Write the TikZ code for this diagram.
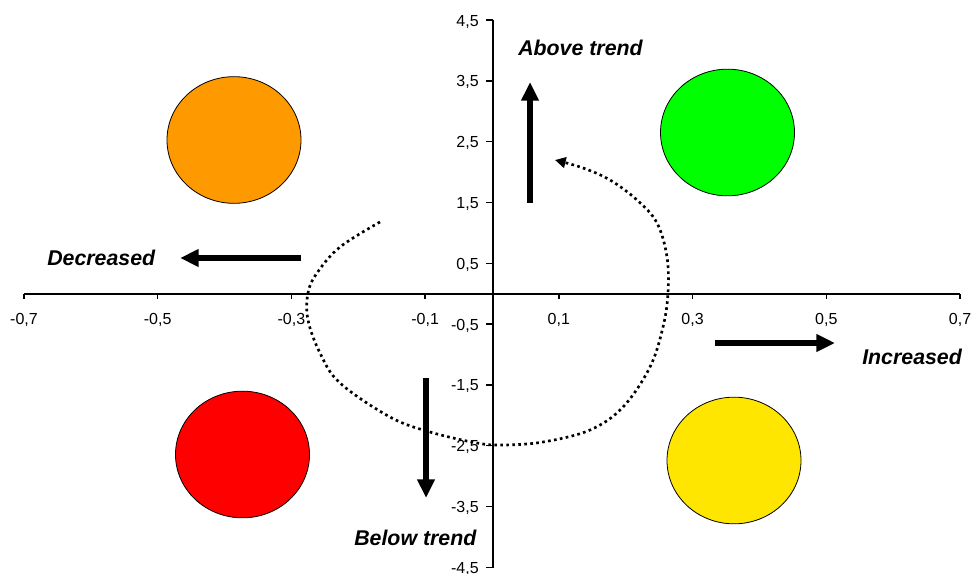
\documentclass[tikz,border=0pt]{standalone}
\usepackage{fontspec}
\setmainfont{Liberation Sans}
\usetikzlibrary{arrows.meta,shapes.geometric}
\definecolor{corange}{HTML}{FF9900}
\definecolor{cgreen}{HTML}{00FF00}
\definecolor{cred}{HTML}{FF0000}
\definecolor{cyellow}{HTML}{FFE600}
\begin{document}
\begin{tikzpicture}[x=0.75pt,y=-0.75pt,
  axisline/.style={line width=1.5pt},
  tickline/.style={line width=1pt},
  ticklab/.style={font=\fontsize{12}{14}\selectfont, inner sep=0},
  lab/.style={font=\fontsize{16}{19}\selectfont\bfseries\itshape, inner sep=0, anchor=base west},
  bigarrow/.style={line width=4.5pt, -{Triangle[length=14pt,width=12.5pt]}},
  blob/.style={ellipse, draw=black, line width=0.6pt, minimum width=100.5pt, minimum height=95pt, inner sep=0},
  trail/.style={line width=2pt, dash pattern=on 2pt off 2.5pt, -{Triangle[length=8pt,width=8pt]}}
]
\useasboundingbox (0,0) rectangle (971,574);
% axes
\coordinate (xl) at (24,294);
\coordinate (xr) at (960,294);
\coordinate (yt) at (493,20);
\coordinate (yb) at (493,568);
\draw[axisline] (xl) -- (xr);
\draw[axisline] (yt) -- (yb);
% x ticks
\foreach \v/\t [count=\i] in {-0.7/{-0,7},-0.5/{-0,5},-0.3/{-0,3},-0.1/{-0,1},0.1/{0,1},0.3/{0,3},0.5/{0,5},0.7/{0,7}}{
  \coordinate (xt\i) at ({492+\v*668.6},294);
  \draw[tickline] (xt\i) -- ++(0,5);
  \node[ticklab, anchor=base] (xlab\i) at ({492+\v*668.6},324) {\t};
}
% y ticks
\foreach \v/\t [count=\i] in {4.5/{4,5},3.5/{3,5},2.5/{2,5},1.5/{1,5},0.5/{0,5},-0.5/{-0,5},-1.5/{-1,5},-2.5/{-2,5},-3.5/{-3,5},-4.5/{-4,5}}{
  \coordinate (yt\i) at (493,{293.7-\v*60.8});
  \draw[tickline] (yt\i) -- ++(-7,0);
  \node[ticklab, anchor=base east] (ylab\i) at (479,{299.7-\v*60.8}) {\t};
}
% circles
\node[blob, fill=corange] (orange) at (234,140) {};
\node[blob, fill=cgreen] (green) at (727.5,132.5) {};
\node[blob, fill=cred] (red) at (242.5,454.5) {};
\node[blob, fill=cyellow] (yellow) at (734,460.5) {};
% big arrows
\coordinate (ua) at (530,203); \coordinate (ub) at (530,82);
\coordinate (la) at (301,258); \coordinate (lb) at (180,258);
\coordinate (ra) at (715,343); \coordinate (rb) at (835,343);
\coordinate (da) at (426,378); \coordinate (db) at (426,498);
\draw[bigarrow] (ua) -- (ub);
\draw[bigarrow] (la) -- (lb);
\draw[bigarrow] (ra) -- (rb);
\draw[bigarrow] (da) -- (db);
% labels
\node[lab] (above) at (518,56) {Above trend};
\node[lab] (decr) at (47,265) {Decreased};
\node[lab] (incr) at (862,364) {Increased};
\node[lab] (below) at (354,545) {Below trend};
% dotted trail
\draw[trail] plot[smooth, tension=0.6] coordinates {
 (380,222) (340,247) (317,273) (308,293) (308,320) (320,353) (340,383)
 (390,417) (430,432) (477,443) (503,445) (543,442) (590,430) (623,407)
 (650,367) (663,327) (668,293) (667,257) (657,223) (637,200) (610,180)
 (583,168) (555,160)};
\end{tikzpicture}
\end{document}
